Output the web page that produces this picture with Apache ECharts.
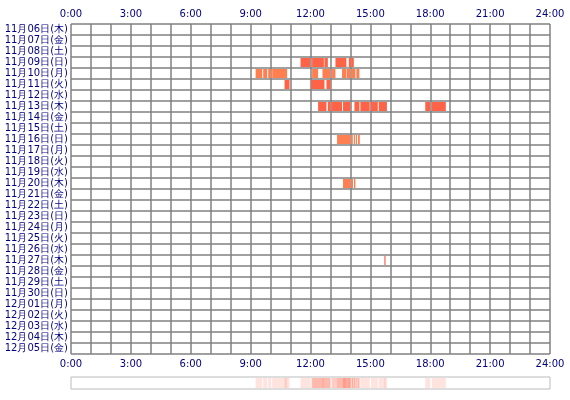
<!DOCTYPE html>
<html>
<head>
<meta charset="utf-8">
<title>ECharts</title>
<script src="https://cdn.jsdelivr.net/npm/echarts@6/dist/echarts.min.js"></script>
</head>
<body style="margin:0">
<div id="main" style="width:570px;height:400px"></div>
<script>
// 日付（行）
var days = ['11月06日(木)','11月07日(金)','11月08日(土)','11月09日(日)','11月10日(月)','11月11日(火)','11月12日(水)',
    '11月13日(木)','11月14日(金)','11月15日(土)','11月16日(日)','11月17日(月)','11月18日(火)','11月19日(水)',
    '11月20日(木)','11月21日(金)','11月22日(土)','11月23日(日)','11月24日(月)','11月25日(火)','11月26日(水)',
    '11月27日(木)','11月28日(金)','11月29日(土)','11月30日(日)','12月01日(月)','12月02日(火)','12月03日(水)',
    '12月04日(木)','12月05日(金)'];
var hourTicks = ['0:00','3:00','6:00','9:00','12:00','15:00','18:00','21:00','24:00'];

// [開始時, 終了時, 日付]
var tomatoSegs = [
    [11.5,12.0,'11月09日(日)'],[12.08,12.67,'11月09日(日)'],[12.7,12.87,'11月09日(日)'],
    [13.25,13.8,'11月09日(日)'],[13.92,14.03,'11月09日(日)'],[14.05,14.17,'11月09日(日)'],
    [10.7,10.95,'11月11日(火)'],[12.03,12.7,'11月11日(火)'],[12.8,13.0,'11月11日(火)'],
    [12.38,12.8,'11月13日(木)'],[12.87,13.0,'11月13日(木)'],[13.05,13.58,'11月13日(木)'],
    [13.63,14.0,'11月13日(木)'],[14.2,14.45,'11月13日(木)'],[14.5,14.97,'11月13日(木)'],
    [15.03,15.37,'11月13日(木)'],[15.42,15.83,'11月13日(木)'],[17.75,18.0,'11月13日(木)'],
    [18.08,18.78,'11月13日(木)'],
    [15.7,15.76,'11月27日(木)']
];
var coralSegs = [
    [9.25,9.58,'11月10日(月)'],[9.63,9.83,'11月10日(月)'],[9.88,10.03,'11月10日(月)'],
    [10.08,10.83,'11月10日(月)'],[12.08,12.38,'11月10日(月)'],[12.6,13.0,'11月10日(月)'],
    [13.08,13.25,'11月10日(月)'],[13.58,13.8,'11月10日(月)'],[13.83,14.03,'11月10日(月)'],
    [14.08,14.25,'11月10日(月)'],[14.3,14.45,'11月10日(月)'],
    [13.33,14.0,'11月16日(日)'],[14.05,14.12,'11月16日(日)'],[14.17,14.23,'11月16日(日)'],
    [14.27,14.33,'11月16日(日)'],[14.38,14.47,'11月16日(日)'],
    [13.63,14.0,'11月20日(木)'],[14.05,14.13,'11月20日(木)'],[14.18,14.25,'11月20日(木)']
];

function segItem(api, params) {
    var a = api.coord([api.value(0), api.value(2)]);
    var b = api.coord([api.value(1), api.value(2)]);
    var h = api.size([0, 1])[1];
    var r = echarts.graphic.clipRectByRect(
        {x: a[0], y: a[1] - h / 2 + 1, width: Math.max(b[0] - a[0], 1), height: h - 2},
        {x: params.coordSys.x, y: params.coordSys.y, width: params.coordSys.width, height: params.coordSys.height});
    return r && {type: 'rect', shape: r, style: api.style()};
}
function stripItem(params, api) {
    var a = api.coord([api.value(0), 0]);
    var b = api.coord([api.value(1), 0]);
    var cs = params.coordSys;
    return {type: 'rect', shape: {x: a[0], y: cs.y + 1, width: Math.max(b[0] - a[0], 1), height: cs.height - 2},
        style: {fill: '#ff6347', opacity: 0.18}};
}

var labelStyle = {color: '#000080', fontSize: 10, fontFamily: 'DejaVu Sans'};
function hourFmt(v) { return v % 3 === 0 ? v + ':00' : ''; }
var allSegs = tomatoSegs.concat(coralSegs).map(function (s) { return [s[0], s[1], 0]; });

var chart = echarts.init(document.getElementById('main'));
chart.setOption({
    animation: false,
    grid: [
        {left: 71, right: 20, top: 24, height: 330},
        {left: 71, right: 20, top: 377, height: 12, show: true, borderColor: '#bbbbbb', borderWidth: 1}
    ],
    xAxis: [
        {gridIndex: 0, type: 'value', min: 0, max: 24, interval: 1, position: 'top',
         axisLine: {show: false}, axisTick: {show: false},
         axisLabel: Object.assign({formatter: hourFmt, margin: 5}, labelStyle),
         splitLine: {lineStyle: {color: '#808080', width: 1.5}}},
        {gridIndex: 0, type: 'value', min: 0, max: 24, interval: 1, position: 'bottom',
         axisLine: {show: false}, axisTick: {show: false},
         axisLabel: Object.assign({formatter: hourFmt, margin: 5}, labelStyle),
         splitLine: {show: false}},
        {gridIndex: 1, type: 'value', min: 0, max: 24, show: false}
    ],
    yAxis: [
        {gridIndex: 0, type: 'category', data: days, inverse: true,
         axisLine: {show: false}, axisTick: {show: false},
         axisLabel: Object.assign({margin: 3, interval: 0}, labelStyle),
         splitLine: {show: true, interval: 0, lineStyle: {color: '#808080', width: 1.5}}},
        {gridIndex: 1, type: 'value', min: 0, max: 1, show: false}
    ],
    series: [
        {type: 'custom', xAxisIndex: 0, yAxisIndex: 0, encode: {x: [0, 1], y: 2},
         itemStyle: {color: '#ff6347'}, data: tomatoSegs,
         renderItem: function (p, api) { return segItem(api, p); }},
        {type: 'custom', xAxisIndex: 0, yAxisIndex: 0, encode: {x: [0, 1], y: 2},
         itemStyle: {color: '#ff7f50'}, data: coralSegs,
         renderItem: function (p, api) { return segItem(api, p); }},
        {type: 'custom', xAxisIndex: 2, yAxisIndex: 1, encode: {x: [0, 1]},
         data: allSegs, renderItem: stripItem}
    ]
});
</script>
</body>
</html>
